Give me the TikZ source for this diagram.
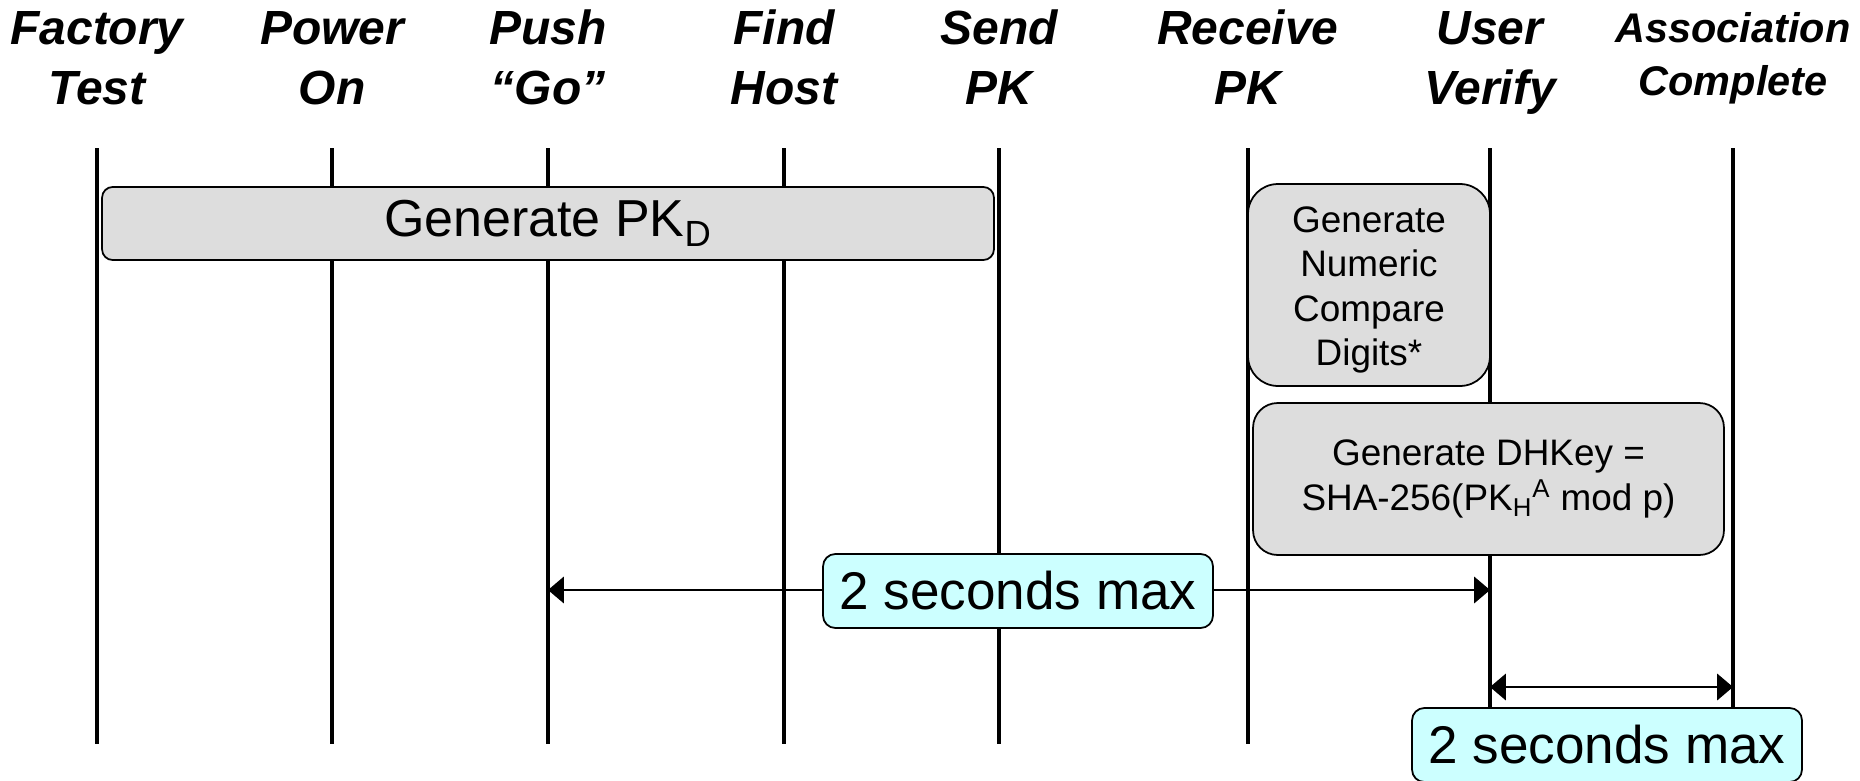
\documentclass[tikz,border=0pt]{standalone}
\usepackage{fontspec}
\setmainfont{Liberation Sans}
\usepackage{tikz}
\usetikzlibrary{arrows.meta, positioning, calc}

\definecolor{taskgray}{HTML}{DDDDDD}
\definecolor{timecyan}{HTML}{CCFFFF}

\begin{document}
\begin{tikzpicture}[x=0.02cm, y=-0.02cm,
  phase/.style={font=\fontsize{27.3}{34.1}\selectfont\bfseries\itshape, align=center, anchor=base, inner sep=0pt},
  lane/.style={line width=1.9pt},
  task/.style={draw, fill=taskgray, line width=1pt, align=center, inner sep=0pt},
  timer/.style={draw, fill=timecyan, line width=1pt, rounded corners=7pt, inner sep=0pt,
    minimum width=7.8cm, minimum height=1.48cm, font=\fontsize{30.2}{36}\selectfont},
  span/.style={{Triangle[length=9pt,width=15pt]}-{Triangle[length=9pt,width=15pt]}, line width=1.2pt}
]
  \useasboundingbox (0,0) rectangle (1860,781);
  \clip (0,0) rectangle (1860,781);

  % phases along the top, one lane each
  \foreach \x/\name/\txt in {97/factory/{Factory\\Test}, 332/power/{Power\\On}, 548/push/{Push\\“Go”},
      784/find/{Find\\Host}, 999/send/{Send\\PK}, 1248/receive/{Receive\\PK}, 1490/verify/{User\\Verify}} {
    \node[phase] (hd-\name) at (\x,104) {\txt};
    \coordinate (\name-top) at (\x,148);
    \coordinate (\name-bot) at (\x,744);
    \draw[lane] (\name-top) -- (\name-bot);
  }
  \node[phase, font=\fontsize{23.6}{29.6}\selectfont\bfseries\itshape] (hd-assoc) at (1733,95) {Association\\Complete};
  \coordinate (assoc-top) at (1733,148);
  \coordinate (assoc-bot) at (1733,744);
  \draw[lane] (assoc-top) -- (assoc-bot);

  % work done on the device
  \node[task, rounded corners=6pt, minimum width=17.84cm, minimum height=1.46cm,
    font=\fontsize{29.6}{36}\selectfont] (genpk) at (548,223.5) {Generate PK\textsubscript{D}};
  \node[task, rounded corners=17pt, minimum width=4.84cm, minimum height=4.04cm,
    font=\fontsize{21}{25.3}\selectfont] (numcmp) at (1369,285)
    {\raisebox{-3pt}[\height][\depth]{\begin{tabular}{@{}c@{}}Generate\\Numeric\\Compare\\Digits*\end{tabular}}};
  \node[task, rounded corners=14pt, minimum width=9.42cm, minimum height=3.04cm,
    font=\fontsize{21}{25.6}\selectfont] (dhkey) at (1488.5,479)
    {Generate DHKey =\\SHA-256(PK\textsubscript{H}\textsuperscript{A} mod p)};

  % time limits
  \coordinate (row1) at (0,590);
  \coordinate (row2) at (0,687);
  \draw[span] (push-top |- row1) -- (verify-top |- row1);
  \draw[span] (verify-top |- row2) -- (assoc-top |- row2);
  \node[timer] (limit1) at (1018,591) {2 seconds max};
  \node[timer] (limit2) at (1607,745) {2 seconds max};
\end{tikzpicture}
\end{document}
